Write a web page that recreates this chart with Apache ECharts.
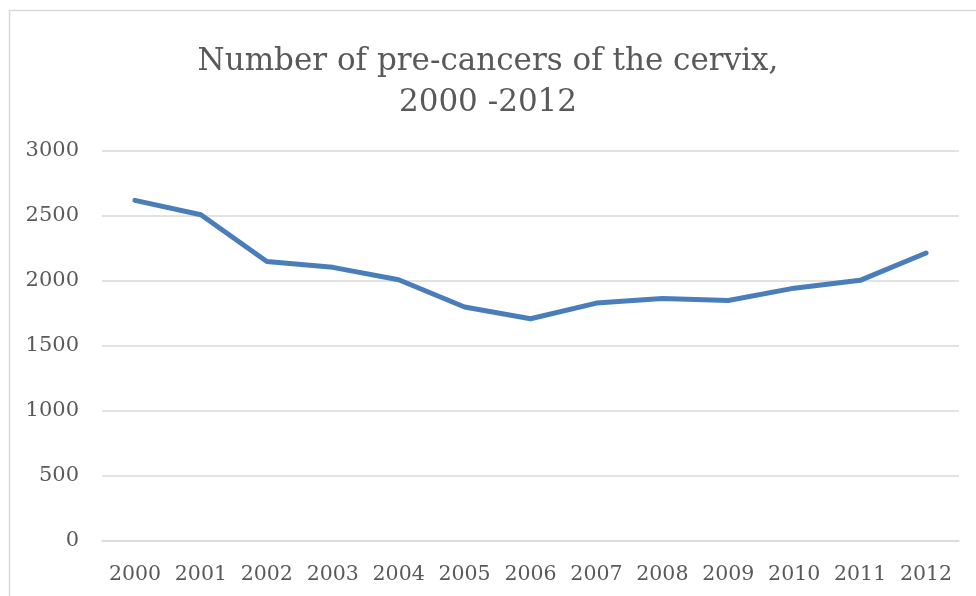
<!DOCTYPE html>
<html>
<head>
<meta charset="utf-8">
<script src="https://cdn.jsdelivr.net/npm/echarts@6/dist/echarts.min.js"></script>
<style>
  html, body { margin: 0; padding: 0; background: #fff; }
  #chart { width: 976px; height: 596px; }
</style>
</head>
<body>
<div id="chart"></div>
<script>
// Yearly counts of cervical pre-cancers
const years = ['2000', '2001', '2002', '2003', '2004', '2005', '2006',
               '2007', '2008', '2009', '2010', '2011', '2012'];
const counts = [2620, 2510, 2150, 2105, 2010, 1800, 1710,
                1830, 1865, 1850, 1945, 2005, 2215];
const titleLines = ['Number of pre-cancers of the cervix,', '2000 -2012'];

const serif = '"DejaVu Serif", "Liberation Serif", serif';
const textColor = '#595959';
const gridColor = '#d9d9d9';

const chart = echarts.init(document.getElementById('chart'));
chart.setOption({
  animation: false,
  backgroundColor: '#ffffff',
  title: {
    text: titleLines.join('\n'),
    left: 'center',
    top: 36,
    textStyle: {
      fontFamily: serif,
      fontSize: 31,
      fontWeight: 'normal',
      color: textColor,
      lineHeight: 41
    }
  },
  graphic: [{
    type: 'rect',
    shape: { x: 9.5, y: 10.5, width: 1000, height: 620 },
    style: { fill: 'none', stroke: gridColor, lineWidth: 1.5 },
    silent: true
  }],
  grid: { left: 102, right: 17, top: 151, bottom: 55 },
  xAxis: {
    type: 'category',
    data: years,
    boundaryGap: true,
    axisLine: { show: true, lineStyle: { color: gridColor, width: 1.5 } },
    axisTick: { show: false },
    axisLabel: {
      interval: 0,
      margin: 23,
      color: textColor,
      fontFamily: serif,
      fontSize: 20.5
    }
  },
  yAxis: {
    type: 'value',
    min: 0,
    max: 3000,
    interval: 500,
    axisLine: { show: false },
    axisTick: { show: false },
    splitLine: { lineStyle: { color: gridColor, width: 1.5 } },
    axisLabel: {
      margin: 23,
      color: textColor,
      fontFamily: serif,
      fontSize: 21,
      formatter: v => String(v)
    }
  },
  series: [{
    type: 'line',
    data: counts,
    showSymbol: false,
    lineStyle: { color: '#4a7ebb', width: 5, cap: 'round', join: 'round' }
  }]
});
</script>
</body>
</html>
